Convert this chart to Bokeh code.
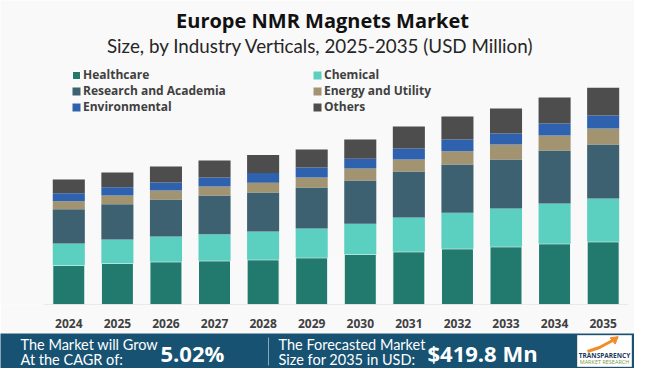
from bokeh.plotting import figure
from bokeh.models import (Range1d, Label, Legend, LegendItem, ColumnDataSource,
                          FixedTicker)
from bokeh.layouts import column
from bokeh.embed import file_html
from bokeh.resources import INLINE

# ---------------- data (USD Million) ----------------
years = [2024, 2025, 2026, 2027, 2028, 2029, 2030, 2031, 2032, 2033, 2034, 2035]
healthcare = [75.5, 79.4, 82.7, 84.6, 86.6, 90.5, 96.9, 102.1, 107.9, 111.8, 117.6, 121.5]
chemical = [42.6, 46.5, 49.0, 51.5, 54.8, 56.8, 59.5, 66.4, 69.7, 74.2, 78.1, 83.9]
research = [66.4, 68.4, 71.7, 75.0, 75.5, 79.4, 83.9, 89.1, 93.6, 94.9, 102.7, 104.6]
energy = [15.5, 16.8, 17.4, 17.4, 18.8, 19.4, 23.2, 23.2, 25.8, 29.1, 29.1, 31.0]
environmental = [15.5, 16.1, 15.5, 17.4, 18.8, 19.4, 18.8, 21.3, 22.7, 21.3, 23.2, 25.2]
others = [26.5, 28.5, 31.0, 32.9, 34.9, 34.9, 37.4, 42.6, 44.6, 48.4, 50.4, 53.7]

series_keys = ["healthcare", "chemical", "research", "energy", "environmental", "others"]
series_names = ["Healthcare", "Chemical", "Research and Academia",
                "Energy and Utility", "Environmental", "Others"]
colors = ["#227A6E", "#5BCFC0", "#3D6171", "#A39471", "#2E62AE", "#4D4D4D"]

title_text = "Europe NMR Magnets Market"
subtitle_text = "Size, by Industry Verticals, 2025-2035 (USD Million)"
cagr_text = "5.02%"
forecast_text = "$419.8 Mn"

# ---------------- main chart ----------------
BG = "#F9F9F9"
NAVY = "#175272"
W = 634
H_TOP = 333

source = ColumnDataSource(dict(year=years, healthcare=healthcare, chemical=chemical,
                               research=research, energy=energy,
                               environmental=environmental, others=others))

p = figure(width=W, height=H_TOP,
           x_range=Range1d(2022.594, 2035.645),
           y_range=Range1d(0, 588.9),
           y_axis_location=None,
           output_backend="svg", toolbar_location=None,
           min_border_left=0, min_border_right=0,
           min_border_top=0, min_border_bottom=29,
           background_fill_color=BG, border_fill_color=BG,
           outline_line_color=None)

renderers = p.vbar_stack(series_keys, x="year", width=0.66, source=source,
                         fill_color=colors,
                         line_color=["white", None, None, None, None, None],
                         line_width=1)

# baseline spanning the category band
p.segment(x0=[years[0] - 0.52], y0=[0], x1=[years[-1] + 0.52], y1=[0],
          line_color="#D9D9D9", line_width=1)

p.xgrid.grid_line_color = None
p.ygrid.grid_line_color = None
xa = p.xaxis[0]
xa.ticker = FixedTicker(ticks=years)
xa.axis_line_color = None
xa.major_tick_line_color = None
xa.minor_tick_line_color = None
xa.major_label_standoff = 8
xa.major_label_text_font = "Open Sans"
xa.major_label_text_font_style = "bold"
xa.major_label_text_font_size = "12px"
xa.major_label_text_color = "#404040"

# title / subtitle (screen units relative to the plot frame)
p.add_layout(Label(x=322, y=284, x_units="screen", y_units="screen", text=title_text,
                   text_align="center", text_baseline="middle", text_font="Open Sans",
                   text_font_style="bold", text_font_size="20px", text_color="#111111"))
p.add_layout(Label(x=320, y=259, x_units="screen", y_units="screen", text=subtitle_text,
                   text_align="center", text_baseline="middle", text_font="Lato",
                   text_font_size="18.8px", text_color="#262626"))

# legend: two columns, one single-item legend per entry
legend_cols = [71, 312]
legend_rows = [221, 205, 189]
for i, name in enumerate(series_names):
    col, row = i % 2, i // 2
    lg = Legend(items=[LegendItem(label=name, renderers=[renderers[i]])],
                location=(legend_cols[col], legend_rows[row]), orientation="vertical",
                label_text_font="Open Sans", label_text_font_style="bold",
                label_text_font_size="12px", label_text_color="#404040",
                glyph_width=10, glyph_height=10, label_height=16, label_standoff=2,
                spacing=0, padding=0, margin=0,
                border_line_color=None, background_fill_alpha=0)
    p.add_layout(lg)

# ---------------- bottom banner ----------------
HB = 35
b = figure(width=W, height=HB, x_range=Range1d(0, W), y_range=Range1d(0, HB),
           x_axis_location=None, y_axis_location=None,
           output_backend="svg", toolbar_location=None, min_border=0,
           background_fill_color=NAVY, border_fill_color=NAVY, outline_line_color=None)
b.grid.visible = False

def btext(x, y, t, size="14.5px", bold=False, font="Lato", color="white", align="left"):
    b.add_layout(Label(x=x, y=y, text=t, text_font=font, text_font_size=size,
                       text_font_style="bold" if bold else "normal",
                       text_color=color, text_align=align, text_baseline="middle"))

btext(20, 24, "The Market will Grow")
btext(20, 9, "At the CAGR of:")
btext(160, 16, cagr_text, size="22px", bold=True, font="Open Sans")
b.segment(x0=[268], y0=[3], x1=[268], y1=[31], line_color="#8EA6B8", line_width=1)
btext(278, 24, "The Forecasted Market")
btext(278, 9, "Size for 2035 in USD:")
btext(427, 16, forecast_text, size="22px", bold=True, font="Open Sans")

# logo
b.quad(left=[577], right=[631], bottom=[2], top=[33], fill_color="white", line_color="#DDDDDD")
b.line(x=[587, 599, 612], y=[17, 21, 28], line_color="#F28C28", line_width=3)
b.scatter(x=[614], y=[29], marker="triangle", angle=-0.9, size=8,
          fill_color="#F28C28", line_color="#F28C28")
btext(604, 13, "TRANSPARENCY", size="6.5px", bold=True, font="Open Sans",
      color="#1B3A5C", align="center")
btext(604, 7, "MARKET RESEARCH", size="5.5px", font="Open Sans",
      color="#7E9A4E", align="center")

layout = column(p, b, spacing=0)
open("out.html", "w").write(file_html(layout, INLINE))
